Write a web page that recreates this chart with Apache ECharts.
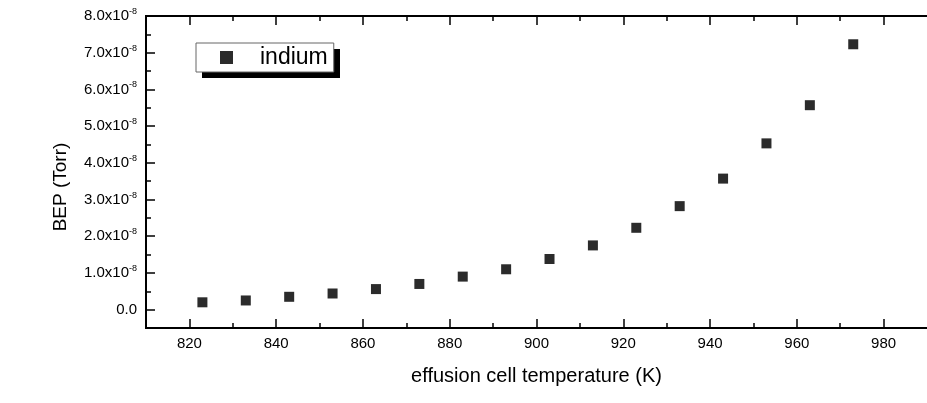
<!DOCTYPE html>
<html>
<head>
<meta charset="utf-8">
<script src="https://cdn.jsdelivr.net/npm/echarts@6/dist/echarts.min.js"></script>
<style>
  html, body { margin: 0; padding: 0; background: #fff; }
  #main { width: 927px; height: 403px; }
</style>
</head>
<body>
<div id="main"></div>
<script>
// cell temperature (K) and beam equivalent pressure (Torr)
var temps = [823, 833, 843, 853, 863, 873, 883, 893, 903, 913, 923, 933, 943, 953, 963, 973];
var bep = [0.20e-8, 0.25e-8, 0.35e-8, 0.44e-8, 0.56e-8, 0.70e-8, 0.90e-8, 1.10e-8,
           1.38e-8, 1.75e-8, 2.23e-8, 2.82e-8, 3.57e-8, 4.53e-8, 5.57e-8, 7.23e-8];

var xMajor = [820, 840, 860, 880, 900, 920, 940, 960, 980];
var xMinor = [830, 850, 870, 890, 910, 930, 950, 970];
var yMajor = [0, 1.0e-8, 2.0e-8, 3.0e-8, 4.0e-8, 5.0e-8, 6.0e-8, 7.0e-8, 8.0e-8];
var yMinor = [0.5e-8, 1.5e-8, 2.5e-8, 3.5e-8, 4.5e-8, 5.5e-8, 6.5e-8, 7.5e-8];

var font = 'Liberation Sans, Arial, sans-serif';
var points = [];
for (var i = 0; i < temps.length; i++) {
    points.push([temps[i], bep[i]]);
}

function yLabel(v) {
    var n = v * 1e8;
    if (Math.abs(n) < 1e-6) return '0.0';
    return '{m|' + n.toFixed(1) + 'x10}{s|-8}';
}

var gridBox = { left: 146, top: 16, width: 800, height: 312 };

function xAxisDef(grid, pos, ticks, len, withLabels) {
    var a = {
        type: 'value', gridIndex: grid, position: pos, min: 810, max: 990,
        splitLine: { show: false },
        axisLine: { show: true, onZero: false, lineStyle: { color: '#000', width: 2 } },
        axisTick: { show: true, inside: true, length: len, customValues: ticks,
                    lineStyle: { color: '#000', width: 1.5 } },
        axisLabel: { show: false }
    };
    if (withLabels) {
        a.axisLabel = { show: true, customValues: xMajor, margin: 8,
                        color: '#000', fontSize: 15, fontFamily: font };
        a.name = 'effusion cell temperature (K)';
        a.nameLocation = 'middle';
        a.nameGap = 38;
        a.nameTextStyle = { color: '#000', fontSize: 20, fontFamily: font };
    }
    return a;
}

function yAxisDef(grid, ticks, len, withLabels) {
    var a = {
        type: 'value', gridIndex: grid, position: 'left', min: -0.5e-8, max: 8.0e-8,
        splitLine: { show: false },
        axisLine: { show: true, onZero: false, lineStyle: { color: '#000', width: 2 } },
        axisTick: { show: true, inside: true, length: len, customValues: ticks,
                    lineStyle: { color: '#000', width: 1.5 } },
        axisLabel: { show: false }
    };
    if (withLabels) {
        a.axisLabel = {
            show: true, customValues: yMajor, margin: 9, formatter: yLabel,
            color: '#000', fontSize: 15, fontFamily: font,
            rich: {
                m: { color: '#000', fontSize: 15, fontFamily: font },
                s: { color: '#000', fontSize: 9, fontFamily: font, padding: [0, 0, 9, 0] }
            }
        };
        a.name = 'BEP (Torr)';
        a.nameLocation = 'middle';
        a.nameGap = 76;
        a.nameTextStyle = { color: '#000', fontSize: 19, fontFamily: font, padding: [0, 30, 0, 0] };
    }
    return a;
}

var chart = echarts.init(document.getElementById('main'), null, { renderer: 'canvas' });
chart.setOption({
    animation: false,
    backgroundColor: '#fff',
    grid: [
        { left: gridBox.left, top: gridBox.top, width: gridBox.width, height: gridBox.height },
        { left: gridBox.left, top: gridBox.top, width: gridBox.width, height: gridBox.height }
    ],
    xAxis: [
        xAxisDef(0, 'bottom', xMajor, 9, true),
        xAxisDef(0, 'top', xMajor, 9, false),
        xAxisDef(1, 'bottom', xMinor, 5, false),
        xAxisDef(1, 'top', xMinor, 5, false)
    ],
    yAxis: [
        yAxisDef(0, yMajor, 9, true),
        yAxisDef(1, yMinor, 5, false)
    ],
    // drop shadow behind the legend box
    graphic: [{
        type: 'rect', z: 3, silent: true,
        shape: { x: 202, y: 49, width: 138, height: 29 },
        style: { fill: '#000' }
    }],
    legend: {
        left: 196, top: 43,
        orient: 'vertical',
        data: [{ name: 'indium', icon: 'rect' }],
        itemWidth: 13, itemHeight: 13,
        padding: [3, 6, 3, 24],
        backgroundColor: '#fff',
        borderColor: '#666', borderWidth: 1,
        textStyle: { color: '#000', fontSize: 23, fontFamily: font, lineHeight: 22,
                     padding: [0, 0, 0, 22] }
    },
    series: [{
        name: 'indium',
        type: 'scatter',
        xAxisIndex: 0,
        yAxisIndex: 0,
        symbol: 'rect',
        symbolSize: 10,
        itemStyle: { color: '#2b2b2b', opacity: 1 },
        data: points
    }]
});
</script>
</body>
</html>
